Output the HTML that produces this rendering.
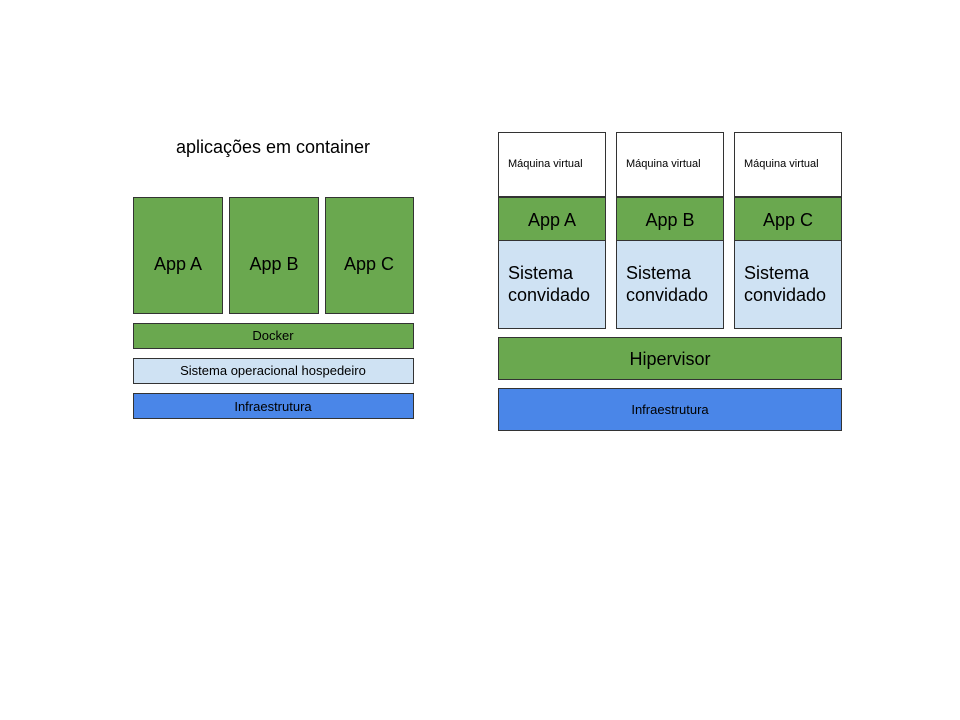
<!DOCTYPE html>
<html><head><meta charset="utf-8"><style>body{margin:0;background:#fff}svg{display:block}text{font-family:"Liberation Sans",Arial,sans-serif;fill:#000}</style></head>
<body>
<svg width="960" height="720" viewBox="0 0 960 720">
<g stroke="#333" stroke-width="1">
<rect x="133.5" y="197.5" width="89" height="116" fill="#6aa84f"/>
<rect x="229.5" y="197.5" width="89" height="116" fill="#6aa84f"/>
<rect x="325.5" y="197.5" width="88" height="116" fill="#6aa84f"/>
<rect x="133.5" y="323.5" width="280" height="25" fill="#6aa84f"/>
<rect x="133.5" y="358.5" width="280" height="25" fill="#cfe2f3"/>
<rect x="133.5" y="393.5" width="280" height="25" fill="#4a86e8"/>

<rect x="498.5" y="132.5" width="107" height="64" fill="#fff"/>
<rect x="616.5" y="132.5" width="107" height="64" fill="#fff"/>
<rect x="734.5" y="132.5" width="107" height="64" fill="#fff"/>
<rect x="498.5" y="197.5" width="107" height="43" fill="#6aa84f"/>
<rect x="616.5" y="197.5" width="107" height="43" fill="#6aa84f"/>
<rect x="734.5" y="197.5" width="107" height="43" fill="#6aa84f"/>
<rect x="498.5" y="240.5" width="107" height="88" fill="#cfe2f3"/>
<rect x="616.5" y="240.5" width="107" height="88" fill="#cfe2f3"/>
<rect x="734.5" y="240.5" width="107" height="88" fill="#cfe2f3"/>
<rect x="498.5" y="337.5" width="343" height="42" fill="#6aa84f"/>
<rect x="498.5" y="388.5" width="343" height="42" fill="#4a86e8"/>
</g>
<text x="273" y="153" font-size="18" text-anchor="middle">aplicações em container</text>
<g font-size="18" text-anchor="middle">
<text x="178" y="270">App A</text>
<text x="274" y="270">App B</text>
<text x="369" y="270">App C</text>
<text x="552" y="226">App A</text>
<text x="670" y="226">App B</text>
<text x="788" y="226">App C</text>
<text x="670" y="365">Hipervisor</text>
</g>
<g font-size="13" text-anchor="middle">
<text x="273" y="340">Docker</text>
<text x="273" y="375">Sistema operacional hospedeiro</text>
<text x="273" y="411">Infraestrutura</text>
<text x="670" y="414">Infraestrutura</text>
</g>
<g font-size="11">
<text x="508" y="167">Máquina virtual</text>
<text x="626" y="167">Máquina virtual</text>
<text x="744" y="167">Máquina virtual</text>
</g>
<g font-size="18">
<text x="508" y="279">Sistema</text><text x="508" y="301">convidado</text>
<text x="626" y="279">Sistema</text><text x="626" y="301">convidado</text>
<text x="744" y="279">Sistema</text><text x="744" y="301">convidado</text>
</g>
</svg>
</body></html>
